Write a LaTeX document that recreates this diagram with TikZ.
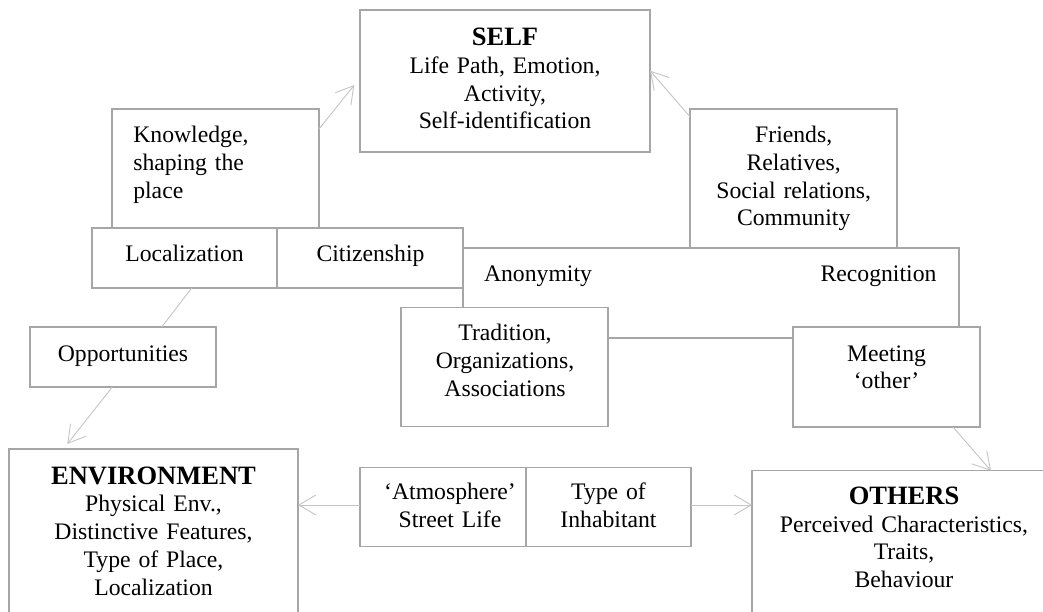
\documentclass[tikz,border=0pt]{standalone}
\usepackage{fontspec}
\setmainfont{Liberation Serif}
\usetikzlibrary{arrows.meta,calc}
\definecolor{boxgray}{HTML}{A6A6A6}
\definecolor{arrgray}{HTML}{C4C4C4}
\begin{document}
\begin{tikzpicture}[x=1pt,y=-1pt,
  box/.style={draw=boxgray, line width=1.3pt, fill=white, rectangle, inner sep=0pt, outer sep=0pt},
  txt/.style={inner sep=0pt, outer sep=0pt, font=\fontsize{23.7}{27.8}\selectfont, align=center, anchor=base},
  hd/.style={},
  arr/.style={draw=arrgray, line width=0.9pt, -{Straight Barb[length=17pt,width=20pt]}},
  ln/.style={draw=arrgray, line width=0.9pt}]
\newcommand{\hdtext}[1]{{\fontsize{26.5}{27.8}\selectfont\bfseries #1}}
\clip (0,0) rectangle (1043,612);
\useasboundingbox (0,0) rectangle (1043,612);
% frame for Anonymity / Recognition
\node[box, minimum width=496pt, minimum height=90pt] (ar) at (711,293) {};
% boxes
\node[box, minimum width=290pt, minimum height=142pt] (self) at (505,81) {};
\node[box, minimum width=207pt, minimum height=119pt] (kn) at (215.5,168.5) {};
\node[box, minimum width=186pt, minimum height=60pt] (loc) at (185,258) {};
\node[box, minimum width=186pt, minimum height=60pt] (cit) at (370,258) {};
\node[box, minimum width=207pt, minimum height=139pt] (fr) at (793.5,178.5) {};
\node[box, minimum width=207pt, minimum height=119.5pt] (trad) at (504.5,367) {};
\node[box, minimum width=187pt, minimum height=100pt] (meet) at (886.5,377) {};
\node[box, minimum width=186pt, minimum height=60pt] (opp) at (123,357) {};
\node[box, minimum width=289pt, minimum height=191pt] (env) at (153.5,544.5) {};
\node[box, minimum width=180pt, minimum height=79.5pt] (atm) at (450,507) {};
\node[box, minimum width=165pt, minimum height=79.5pt] (typ) at (608.5,507) {};
\node[box, minimum width=304pt, minimum height=169.3pt] (oth) at (904,555.4) {};
% texts
\node[txt, text width=280pt] (t-self) at (505,45.5) {\hdtext{SELF}\\Life Path, Emotion,\\Activity,\\Self-identification};
\node[txt, text width=180pt, align=left, anchor=base west] (t-kn) at (133.3,142.5) {Knowledge,\\shaping the\\place};
\node[txt, text width=200pt] (t-fr) at (793.7,142.5) {Friends,\\Relatives,\\Social relations,\\Community};
\node[txt, text width=180pt] (t-loc) at (184.5,261.7) {Localization};
\node[txt, text width=180pt] (t-cit) at (370.5,261.7) {Citizenship};
\node[txt, text width=160pt] (t-anon) at (538,281.5) {Anonymity};
\node[txt, text width=160pt] (t-rec) at (878.5,281.5) {Recognition};
\node[txt, text width=200pt] (t-trad) at (505,340.7) {Tradition,\\Organizations,\\Associations};
\node[txt, text width=180pt] (t-meet) at (886.5,361) {Meeting\\‘other’};
\node[txt, text width=180pt] (t-opp) at (123,361.7) {Opportunities};
\node[txt, text width=280pt] (t-env) at (153.5,484) {\hdtext{ENVIRONMENT}\\Physical Env.,\\Distinctive Features,\\Type of Place,\\Localization};
\node[txt, text width=175pt] (t-atm) at (450,499.3) {‘Atmosphere’\\Street Life};
\node[txt, text width=160pt] (t-typ) at (608.5,499.3) {Type of\\Inhabitant};
\node[txt, text width=290pt] (t-oth) at (904,504.3) {\hdtext{OTHERS}\\Perceived Characteristics,\\Traits,\\Behaviour};
% connectors
\draw[arr] ($(kn.north east)+(0,20)$) -- ($(self.west)+(-5.7,4)$);
\draw[arr] ($(fr.north west)+(0,7.7)$) -- ($(self.east)+(0,-10.3)$);
\draw[ln] ($(loc.south)+(6.7,0)$) -- ($(opp.north)+(38.7,0)$);
\draw[arr] ($(opp.south)+(-10.7,0)$) -- ($(env.north west)+(58.3,-5)$);
\draw[arr] ($(atm.west)+(0,-2)$) -- ($(atm.west -| env.east)+(0,-2)$);
\draw[arr] ($(typ.east)+(0,-2)$) -- ($(typ.east -| oth.west)+(0,-2)$);
\draw[arr] ($(meet.south east)+(-27,0)$) -- ($(oth.north)+(87,0)$);
\end{tikzpicture}
\end{document}
